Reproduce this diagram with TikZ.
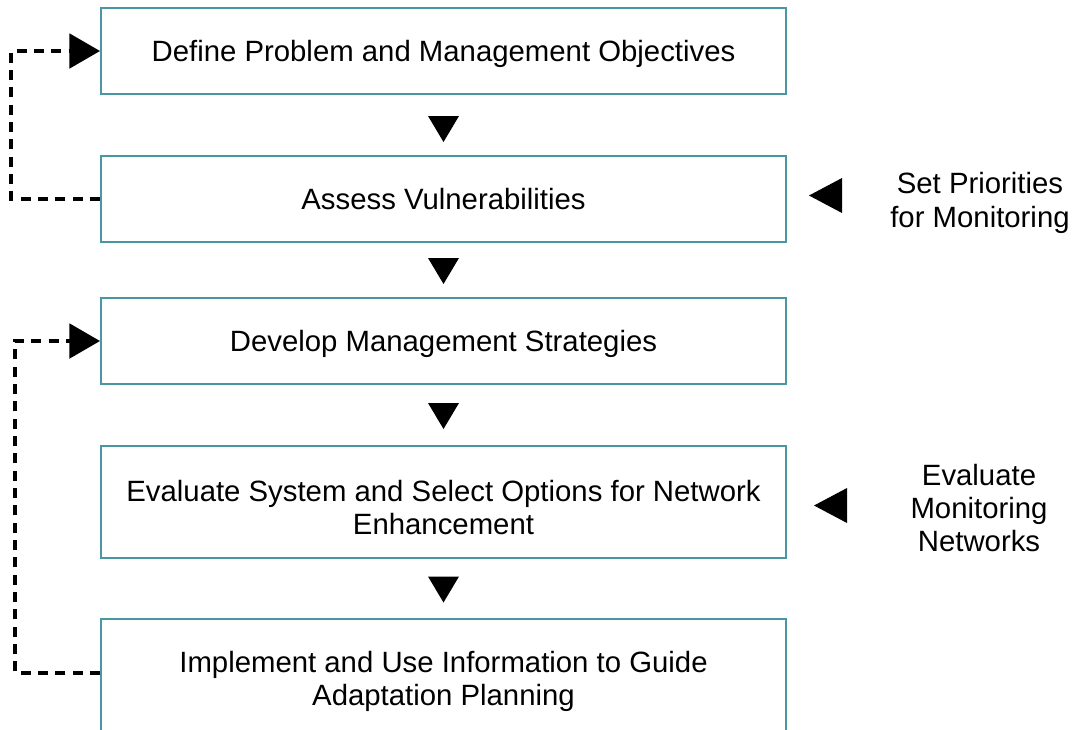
\documentclass[tikz,border=0pt]{standalone}
\usepackage{fontspec}
\setmainfont{Liberation Sans}
\usepackage{xcolor}
\usetikzlibrary{positioning,arrows.meta,calc}
\definecolor{boxteal}{RGB}{74,150,163}

\begin{document}
\begin{tikzpicture}[x=0.75pt,y=-0.75pt]
\tikzstyle{every node}+=[inner sep=0pt, font=\fontsize{22}{25}\selectfont]
\tikzstyle{stage}=[draw=boxteal, line width=1.5pt, minimum width=513.75pt, minimum height=64.5pt, align=center, text height=15pt, text depth=0pt]
\tikzstyle{feedback}=[line width=2.4pt, dash pattern=on 7.5pt off 5.5pt, -{Triangle[length=23pt,width=26pt]}]
\useasboundingbox (0,0) rectangle (1074,729);
% stages
\node [stage] (define) at (443.5,51) {Define Problem and Management Objectives};
\node [stage] (assess) at (443.5,199) {Assess Vulnerabilities};
\node [stage] (develop) at (443.5,341) {Develop Management Strategies};
\node [stage, minimum height=84pt, text height=49pt] (evalsys) at (443.5,502) {Evaluate System and Select Options for Network\\Enhancement};
\node [stage, minimum height=84pt, text height=46pt] (implement) at (443.5,675) {Implement and Use Information to Guide\\Adaptation Planning};
% side notes
\node [align=center] (priorities) at (980,203) {Set Priorities\\for Monitoring};
\node [align=center] (evalnet) at (979,508) {Evaluate\\Monitoring\\Networks};
% down triangles
\fill ($(define.south)!0.5!(assess.north)+(-15.5,-9)$) -- ++(31,0) -- ++(-15.5,26) -- cycle;
\fill ($(assess.south)!0.5!(develop.north)+(-15.5,-12)$) -- ++(31,0) -- ++(-15.5,26) -- cycle;
\fill ($(develop.south)!0.5!(evalsys.north)+(-15.5,-12)$) -- ++(31,0) -- ++(-15.5,26) -- cycle;
\fill ($(evalsys.south)!0.5!(implement.north)+(-15.5,-12)$) -- ++(31,0) -- ++(-15.5,26) -- cycle;
% left triangles
\fill (842,178) -- (842,213) -- (809,195.5) -- cycle;
\fill (847,488) -- (847,523) -- (814,505.5) -- cycle;
% feedback loops
\draw [feedback] (assess.west) -- ++(-89,0) |- (define.west);
\draw [feedback] ($(implement.west)+(0,-2)$) -- ++(-85,0) |- (develop.west);
\end{tikzpicture}
\end{document}
